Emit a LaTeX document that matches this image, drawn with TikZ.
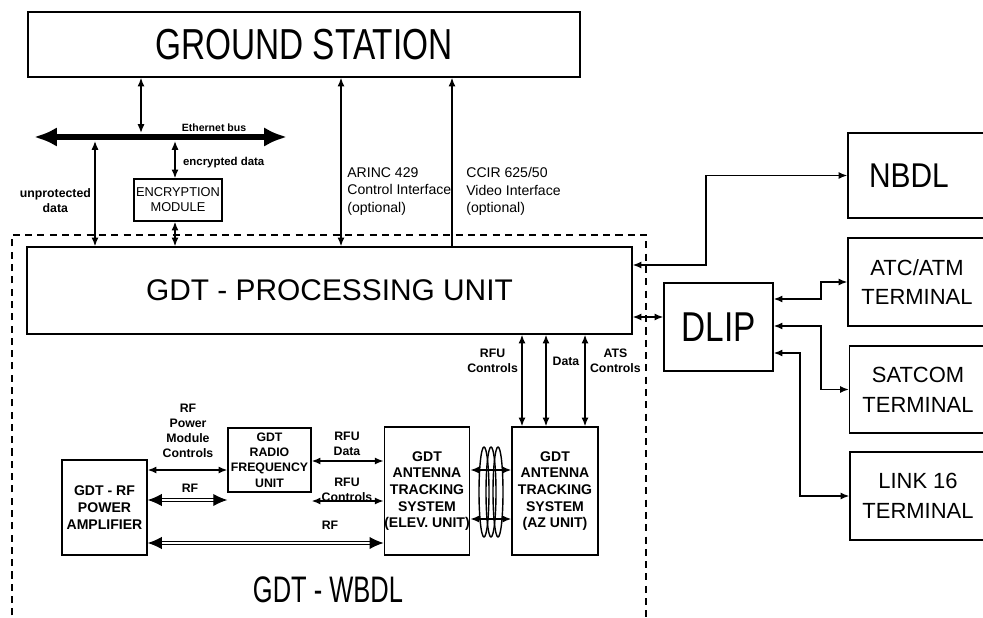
\documentclass[tikz,border=0pt]{standalone}
\usepackage{fontspec}
\setmainfont{Liberation Sans}
\usetikzlibrary{arrows.meta}

% tall, narrow lettering of the big titles
\newcommand\vstretch[2]{\scalebox{1}[#1]{#2}}

\tikzset{
  blk/.style={draw, line width=0.8pt, inner sep=0pt, align=center},
  lbl/.style={font=\fontsize{7}{8.5}\selectfont\bfseries, align=center, inner sep=1pt},
  iface/.style={font=\fontsize{8}{10}\selectfont, align=left, inner sep=0pt},
  unit/.style={blk, font=\fontsize{8}{9.5}\selectfont\bfseries},
  term/.style={blk, font=\fontsize{12.5}{17}\selectfont},
  link/.style={line width=0.8pt, {Latex[length=5pt,width=4pt]}-{Latex[length=5pt,width=4pt]}},
  uplink/.style={line width=0.8pt, -{Latex[length=5pt,width=4pt]}},
  rfline/.style={double, double distance=1.2pt, line width=0.6pt, {Latex[length=8pt,width=7pt]}-{Latex[length=8pt,width=7pt]}},
}

\begin{document}
\begin{tikzpicture}[x=0.02cm, y=-0.02cm]
\useasboundingbox (0,0) rectangle (983,618);
\clip (0,0) rectangle (983,618);

% ground side
\node[blk, minimum width=11.04cm, minimum height=1.3cm, font=\fontsize{19}{22}\selectfont] (gs) at (304,44.5) {\vstretch{1.3}{GROUND STATION}};
\node[blk, minimum width=1.76cm, minimum height=0.84cm, font=\fontsize{7.3}{8.5}\selectfont] (enc) at (178,200) {ENCRYPTION\\MODULE};
\node[blk, minimum width=12.1cm, minimum height=1.74cm, font=\fontsize{17}{20}\selectfont] (pu) at (329.5,290.5) {GDT - PROCESSING UNIT};

% ethernet bus
\coordinate (busL) at (34,137);
\coordinate (busR) at (287,137);
\coordinate (tapgs) at (141,133);
\coordinate (tapup) at (95,141);
\coordinate (tapenc) at (175,141);
\draw[line width=3.2pt, {Latex[length=13pt,width=11pt]}-{Latex[length=13pt,width=11pt]}] (busL) -- (busR);
\node[font=\fontsize{6}{7}\selectfont\bfseries, inner sep=0pt] (ethlbl) at (214,128) {Ethernet bus};

\draw[link] (gs.south -| tapgs) -- (tapgs);
\draw[link] (tapup) -- (pu.north -| tapup);
\draw[link] (tapenc) -- (enc.north -| tapenc);
\draw[link] (enc.south -| tapenc) -- (pu.north -| tapenc);
\node[lbl, anchor=east] (uplbl) at (93,201) {unprotected\\data};
\node[lbl, anchor=west, font=\fontsize{6.5}{8}\selectfont\bfseries] (enclbl) at (181,163) {encrypted data};

% optional interfaces
\draw[link] (gs.south -| 341,0) -- (pu.north -| 341,0);
\draw[uplink] (pu.north -| 452,0) -- (gs.south -| 452,0);
\node[iface, anchor=north west] (arinc) at (347,167) {ARINC 429\\Control Interface\\(optional)};
\node[iface, anchor=north west] (ccir) at (466,167) {CCIR 625/50\\Video Interface\\(optional)};

% GDT - WBDL frame
\draw[line width=0.8pt, dash pattern=on 4pt off 3pt] (12,640) |- (646,235) -- (646,640);
\node[font=\fontsize{14.5}{17}\selectfont, inner sep=0pt] (wbdl) at (328,590) {\vstretch{1.45}{GDT - WBDL}};

% airborne units
\node[unit, minimum width=1.7cm, minimum height=1.9cm] (pa) at (104.5,507.5) {GDT - RF\\POWER\\AMPLIFIER};
\node[unit, minimum width=1.66cm, minimum height=1.28cm, font=\fontsize{7}{8.8}\selectfont\bfseries] (rfu) at (269.5,460) {GDT\\RADIO\\FREQUENCY\\UNIT};
\node[unit, minimum width=1.68cm, minimum height=2.56cm] (elev) at (427,491) {GDT\\ANTENNA\\TRACKING\\SYSTEM\\(ELEV. UNIT)};
\node[unit, minimum width=1.72cm, minimum height=2.56cm] (az) at (555,491) {GDT\\ANTENNA\\TRACKING\\SYSTEM\\(AZ UNIT)};

\draw[link] (pa.east |- 0,470) -- (rfu.west |- 0,470);
\node[lbl] (pmclbl) at (188,431) {RF\\Power\\Module\\Controls};
\draw[rfline] (pa.east |- 0,500) -- (rfu.west |- 0,500);
\node[lbl] (rf1lbl) at (190,488) {RF};
\draw[link] (rfu.east |- 0,461) -- (elev.west |- 0,461);
\node[lbl] (rfudlbl) at (347,444) {RFU\\Data};
\draw[link] (rfu.east |- 0,501) -- (elev.west |- 0,501);
\node[lbl] (rfuclbl) at (347,490) {RFU\\Controls};
\draw[rfline] (pa.east |- 0,543) -- (elev.west |- 0,543);
\node[lbl] (rf2lbl) at (330,525) {RF};

% rotary joint
\foreach \cx in {484,491,498}
  \draw[line width=0.8pt] (\cx,492) ellipse [x radius=0.1cm, y radius=0.9cm];
\draw[link] (elev.east |- 0,470) -- (az.west |- 0,470);
\draw[link] (elev.east |- 0,519) -- (az.west |- 0,519);

% processing unit to AZ unit
\foreach \cx in {522,546,585}
  \draw[link] (pu.south -| \cx,0) -- (az.north -| \cx,0);
\node[lbl, anchor=east] (rfuc2lbl) at (520,361) {RFU\\Controls};
\node[lbl] (datalbl) at (566,361) {Data};
\node[lbl, anchor=west] (atslbl) at (588,361) {ATS\\Controls};

% data links
\node[blk, minimum width=2.18cm, minimum height=1.76cm, font=\fontsize{19}{22}\selectfont] (dlip) at (718.5,327) {\vstretch{1.25}{DLIP}};
\node[blk, minimum width=2.76cm, minimum height=1.7cm, font=\fontsize{17}{20}\selectfont] (nbdl) at (917,175.5) {\vstretch{1.15}{NBDL}\hspace*{0.32cm}};
\node[term, minimum width=2.76cm, minimum height=1.76cm] (atc) at (917,282) {ATC/ATM\\TERMINAL};
\node[term, minimum width=2.74cm, minimum height=1.74cm] (sat) at (918,389.5) {SATCOM\\TERMINAL};
\node[term, minimum width=2.72cm, minimum height=1.76cm] (link) at (918,496) {LINK 16\\TERMINAL};

\draw[link] (pu.east |- 0,265) -- (706,265) |- (nbdl.west);
\draw[link] (pu.east |- 0,317) -- (dlip.west |- 0,317);
\draw[link] (dlip.east |- 0,299) -- (821,299) |- (atc.west);
\draw[link] (dlip.east |- 0,326) -- (821,326) |- (sat.west);
\draw[link] (dlip.east |- 0,353) -- (800,353) |- (link.west);
\end{tikzpicture}
\end{document}
